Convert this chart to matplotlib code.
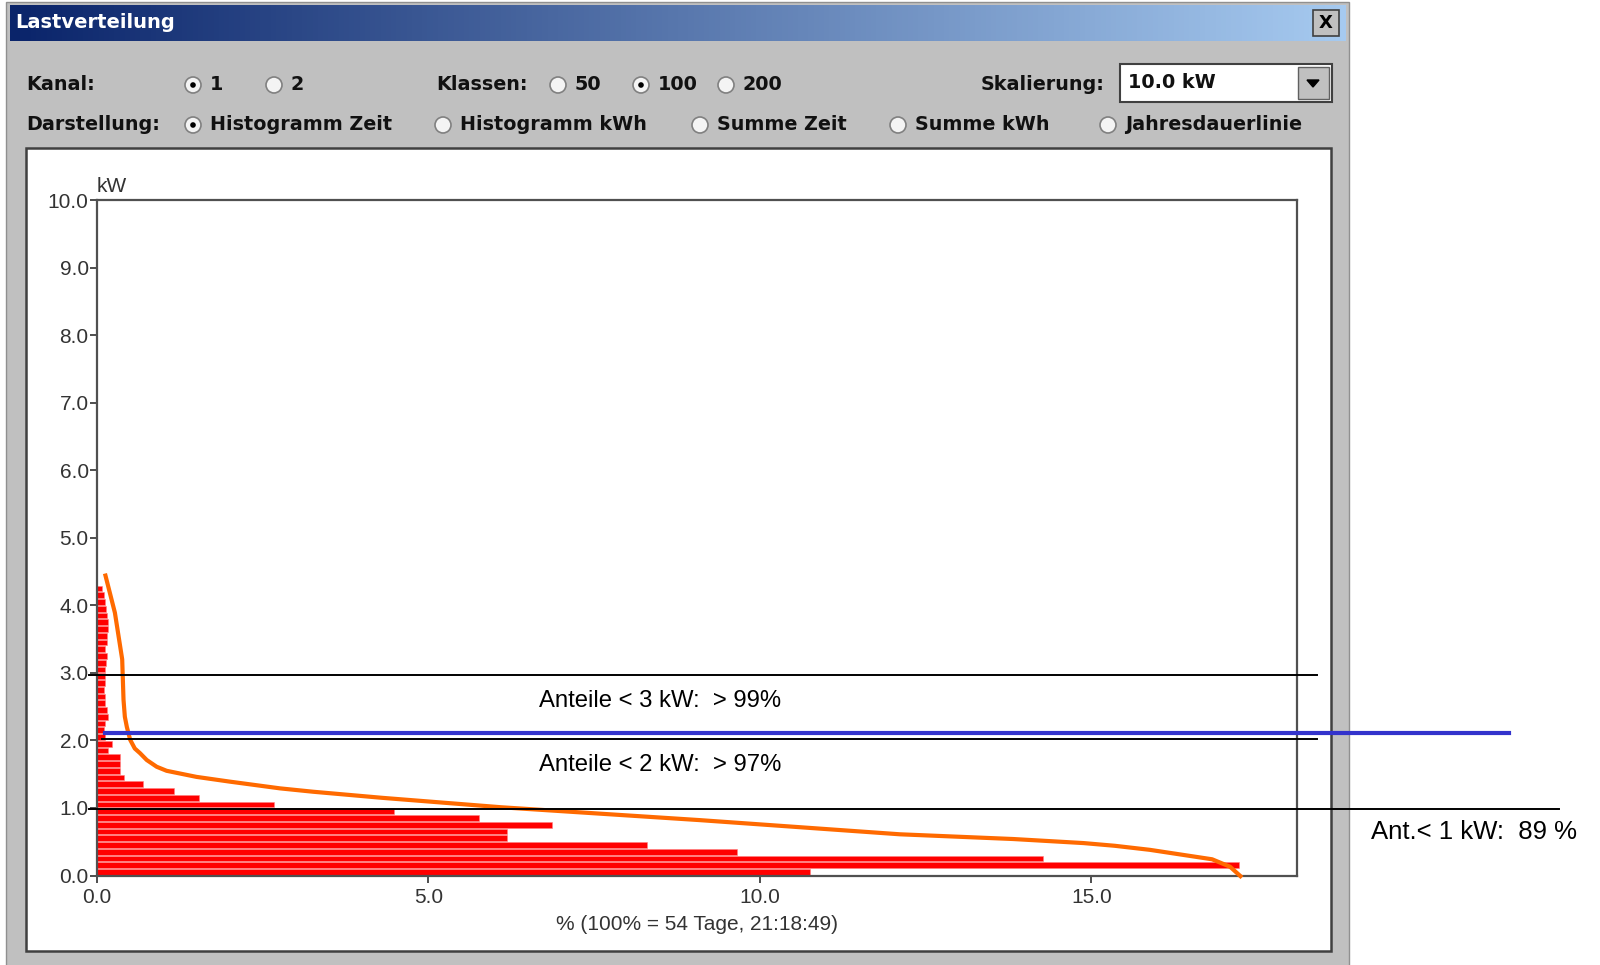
import numpy as np
import matplotlib
matplotlib.use("Agg")
import matplotlib.pyplot as plt
from matplotlib.patches import Rectangle, Circle

plt.rcParams['font.family'] = ['Liberation Sans', 'DejaVu Sans']

# histogram: share of time (%) per 0.1 kW class, classes 0.0-0.1 ... 4.2-4.3 kW
class_width = 0.1
time_share = [10.75, 17.22, 14.27, 9.66, 8.29, 6.19, 6.19, 6.86, 5.76, 4.48,
              2.67, 1.54, 1.16, 0.70, 0.40, 0.34, 0.34, 0.34, 0.17, 0.22,
              0.12, 0.10, 0.12, 0.17, 0.15, 0.12, 0.12, 0.10, 0.12, 0.12,
              0.12, 0.14, 0.15, 0.12, 0.15, 0.15, 0.17, 0.17, 0.15, 0.14,
              0.12, 0.10, 0.08]

# orange curve (x in %, y in kW)
curve_x = [0.12, 0.27, 0.38, 0.40, 0.42, 0.45, 0.50, 0.57, 0.65, 0.75,
           0.90, 1.05, 1.25, 1.50, 2.0, 2.76, 3.26, 4.3, 6.1, 9.09,
           12.11, 13.82, 14.88, 15.35, 15.88, 16.35, 16.82, 17.09, 17.27]
curve_y = [4.47, 3.89, 3.20, 2.60, 2.35, 2.20, 2.01, 1.88, 1.81, 1.71,
           1.61, 1.55, 1.51, 1.46, 1.39, 1.29, 1.24, 1.15, 1.01, 0.82,
           0.61, 0.54, 0.48, 0.44, 0.38, 0.31, 0.24, 0.13, -0.03]

# hand drawn reference lines (kW level, x start, x end)
ref_levels = [2.97, 2.02, 0.98]
ref_x0 = [-0.12, 0.08, -0.12]
ref_x1 = [18.4, 18.4, 22.05]
blue_level = 2.11
blue_x = [0.12, 21.3]

notes = ["Anteile < 3 kW:  > 99%", "Anteile < 2 kW:  > 97%", "Ant.< 1 kW:  89 %"]
note_pos = [(8.5, 2.58), (8.5, 1.64), (20.77, 0.64)]
note_size = [17.2, 17.2, 18.5]

xticks = [0, 5, 10, 15]
yticks = list(range(0, 11))

W, H = 1600, 965
fig = plt.figure(figsize=(16, 9.65), dpi=100)
fig.patch.set_facecolor('white')

# ---- dialog chrome, in pixel coords ----
bg = fig.add_axes([0, 0, 1, 1], zorder=0)
bg.set_xlim(0, W)
bg.set_ylim(H, 0)
bg.axis('off')

gray = '#C0C0C0'
bg.add_patch(Rectangle((6, 2), 1343, 970, facecolor=gray, edgecolor='#909090', lw=1))

grad = np.linspace(0, 1, 256).reshape(1, -1)
c0 = np.array([10, 36, 106]) / 255
c1 = np.array([166, 202, 240]) / 255
img = c0[None, None, :] * (1 - grad[..., None]) + c1[None, None, :] * grad[..., None]
bg.imshow(img, extent=[10, 1346, 41, 5], aspect='auto', zorder=1)
bg.text(15, 23, "Lastverteilung", color='white', fontsize=14, fontweight='bold',
        family='DejaVu Sans', va='center', ha='left', zorder=2)

# close button
bg.add_patch(Rectangle((1313, 10), 26, 26, facecolor=gray, edgecolor='#404040', lw=1.2, zorder=2))
bg.text(1326, 23.5, "X", fontsize=13, fontweight='bold', family='DejaVu Sans',
        ha='center', va='center', color='black', zorder=3)

lbl = dict(fontsize=13.8, fontweight='bold', family='DejaVu Sans', color='#111111', va='center')
row1, row2 = 85, 125
bg.text(26, row1, "Kanal:", ha='left', **lbl)
bg.text(436, row1, "Klassen:", ha='left', **lbl)
bg.text(1104, row1, "Skalierung:", ha='right', **lbl)
bg.text(26, row2, "Darstellung:", ha='left', **lbl)


def radio(x, y, text, selected):
    bg.add_patch(Circle((x, y), 8, facecolor='#F4F4F4', edgecolor='#808080', lw=1.2, zorder=2))
    if selected:
        bg.add_patch(Circle((x, y), 2.8, facecolor='black', edgecolor='none', zorder=3))
    bg.text(x + 17, y, text, ha='left', **lbl)


radio(193, row1, "1", True)
radio(274, row1, "2", False)
radio(558, row1, "50", False)
radio(641, row1, "100", True)
radio(726, row1, "200", False)
radio(193, row2, "Histogramm Zeit", True)
radio(443, row2, "Histogramm kWh", False)
radio(700, row2, "Summe Zeit", False)
radio(898, row2, "Summe kWh", False)
radio(1108, row2, "Jahresdauerlinie", False)

# combobox
bg.add_patch(Rectangle((1120, 64), 212, 38, facecolor='white', edgecolor='#404040', lw=1.5, zorder=2))
bg.add_patch(Rectangle((1298, 67), 31, 32, facecolor=gray, edgecolor='#606060', lw=1, zorder=3))
bg.fill([1307, 1319, 1313], [80, 80, 87], color='black', zorder=4)
bg.text(1128, 83, "10.0 kW", ha='left', **lbl)

# chart panel
bg.add_patch(Rectangle((25.5, 148), 1305.5, 803, facecolor='white', edgecolor='#404040', lw=1.8, zorder=2))

# ---- chart ----
x0_px, x1_px, y0_px, y1_px = 97, 1297, 875.5, 200
ax = fig.add_axes([x0_px / W, 1 - y0_px / H, (x1_px - x0_px) / W, (y0_px - y1_px) / H], zorder=3)
ax.set_facecolor('white')

centers = [class_width * (k + 0.5) for k in range(len(time_share))]
ax.barh(centers, time_share, height=0.085, color='#FF0000', edgecolor='#FF8080',
        linewidth=0.4, zorder=2)

ax.plot(curve_x, curve_y, color='#FF6A00', lw=3, zorder=4, clip_on=False,
        solid_joinstyle='round', solid_capstyle='butt')

for lev, a, b in zip(ref_levels, ref_x0, ref_x1):
    ax.plot([a, b], [lev, lev], color='black', lw=1.4, zorder=5, clip_on=False)
ax.plot(blue_x, [blue_level, blue_level], color='#3333CC', lw=3, zorder=6, clip_on=False)

for t, (tx, ty), fs in zip(notes, note_pos, note_size):
    ax.text(tx, ty, t, fontsize=fs, ha='center', va='center', color='black',
            clip_on=False, zorder=7)

ax.set_xlim(0, 18.1)
ax.set_ylim(0, 10)
ax.set_xticks(xticks)
ax.set_xticklabels([f"{v:.1f}" for v in xticks])
ax.set_yticks(yticks)
ax.set_yticklabels([f"{v:.1f}" for v in yticks])
ax.tick_params(direction='out', length=5, width=1.3, color='#404040',
               labelsize=15, labelcolor='#333333')
ax.tick_params(axis='x', pad=4)
ax.tick_params(axis='y', pad=1)
for s in ax.spines.values():
    s.set_color('#505050')
    s.set_linewidth(1.6)

ax.set_xlabel("% (100% = 54 Tage, 21:18:49)", fontsize=15, color='#333333', labelpad=6)
bg.text(97, 192, "kW", fontsize=15, color='#333333', ha='left', va='baseline', zorder=3)

fig.savefig("out.png", dpi=100)
